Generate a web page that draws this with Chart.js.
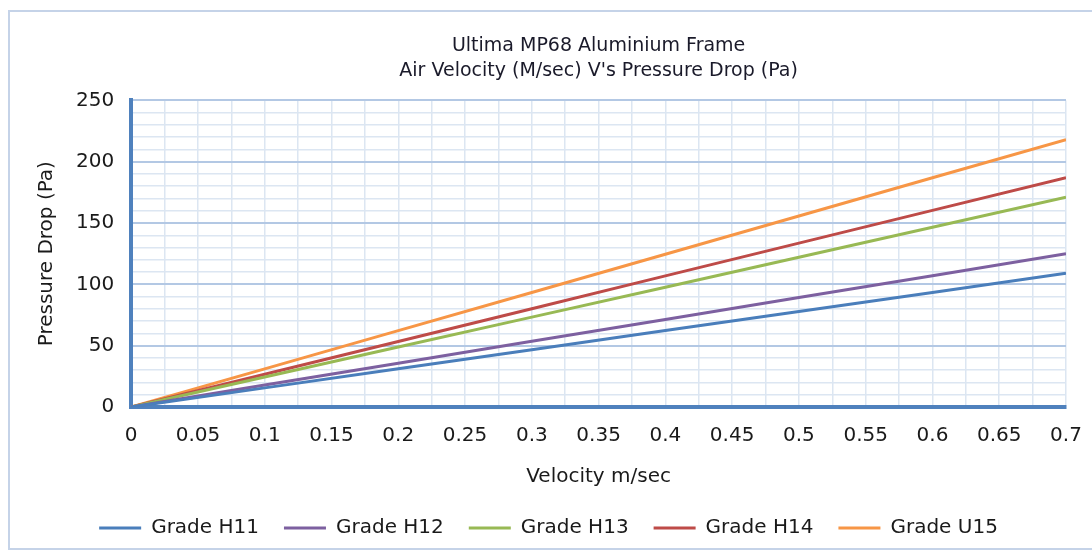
<!DOCTYPE html>
<html>
<head>
<meta charset="utf-8">
<script src="https://cdn.jsdelivr.net/npm/chart.js@4.4.1/dist/chart.umd.min.js"></script>
<style>
  html,body{margin:0;padding:0;background:#fff;}
  #wrap{position:relative;width:1092px;height:553px;overflow:hidden;}
  #frame{position:absolute;left:8px;top:10px;width:1100px;height:536px;border:2px solid #c5d3e8;border-right:none;}
  canvas{position:absolute;left:0;top:0;}
</style>
</head>
<body>
<div id="wrap">
  <div id="frame"></div>
  <canvas id="c" width="1092" height="553"></canvas>
</div>
<script>
const velocity = [0, 0.1, 0.2, 0.3, 0.4, 0.5, 0.6, 0.7];
const gradeH11 = [0, 15.6, 31.1, 46.7, 62.3, 77.9, 93.4, 109];
const gradeH12 = [0, 17.9, 35.7, 53.6, 71.4, 89.3, 107.1, 125];
const gradeH13 = [0, 24.4, 48.9, 73.3, 97.7, 122.1, 146.6, 171];
const gradeH14 = [0, 26.7, 53.4, 80.1, 106.9, 133.6, 160.3, 187];
const gradeU15 = [0, 31.1, 62.3, 93.4, 124.6, 155.7, 186.9, 218];
const seriesNames = ["Grade H11","Grade H12","Grade H13","Grade H14","Grade U15"];
const seriesColors = ["#4a7ebb","#7d60a0","#98b954","#be4b48","#f79646"];

function pts(ys){ return velocity.map((v,i)=>({x:v,y:ys[i]})); }
const all = [gradeH11,gradeH12,gradeH13,gradeH14,gradeU15];

Chart.defaults.font.family = "'DejaVu Sans', Verdana, sans-serif";
Chart.defaults.color = "#1a1a1a";

new Chart(document.getElementById("c"), {
  type:"line",
  data:{datasets: all.map((d,i)=>({
    label:seriesNames[i], data:pts(d), borderColor:seriesColors[i], backgroundColor:seriesColors[i],
    borderWidth:3, pointRadius:0, tension:0
  }))},
  options:{
    responsive:false, animation:false,
    layout:{padding:{left:31,right:26,top:20,bottom:5}},
    plugins:{
      title:{display:true, fullSize:false, text:["Ultima MP68 Aluminium Frame","Air Velocity (M/sec) V's Pressure Drop (Pa)"],
        font:{size:19, weight:"normal", lineHeight:1.3}, color:"#1a1a2a", padding:{top:14,bottom:17}},
      legend:{position:"bottom", labels:{boxWidth:42, boxHeight:0, font:{size:20}, padding:25, color:"#1a1a1a"}},
      tooltip:{enabled:false}
    },
    scales:{
      x:{type:"linear", min:0, max:0.7,
        afterFit:(s)=>{ s.paddingRight = 0; },
        ticks:{stepSize:0.025, autoSkip:false, maxRotation:0, font:{size:20}, padding:17,
          callback:(v)=>{ const k=Math.round(v*1000); return k%50===0 ? String(+(v.toFixed(2))) : ""; }},
        grid:{color:"#dce6f2", lineWidth:1.5, drawTicks:false},
        border:{color:"#4f81bd", width:4},
        title:{display:true, text:"Velocity m/sec", font:{size:20}, padding:{top:0,bottom:4}}
      },
      y:{min:0, max:250,
        ticks:{stepSize:10, autoSkip:false, font:{size:20}, padding:17,
          callback:(v)=> v%50===0 ? String(v) : ""},
        grid:{color:(c)=> (c.tick && c.tick.value%50===0) ? "#b3c8e4" : "#dce6f2",
              lineWidth:(c)=> (c.tick && c.tick.value%50===0) ? 2 : 1.5, drawTicks:false},
        border:{color:"#4f81bd", width:4},
        title:{display:true, text:"Pressure Drop (Pa)", font:{size:20}, padding:{top:4,bottom:0}}
      }
    }
  }
});
</script>
</body>
</html>
